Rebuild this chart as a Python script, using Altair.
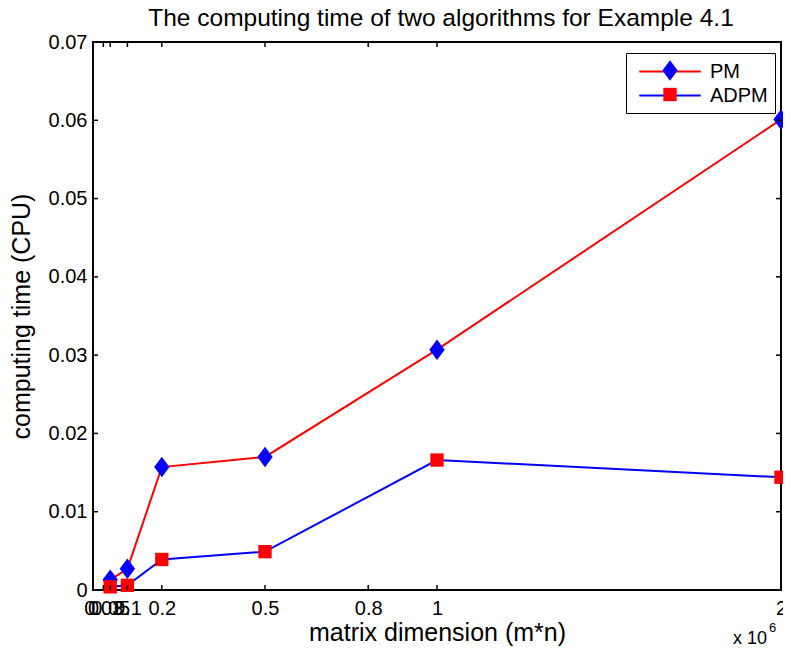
import altair as alt
import pandas as pd

# ---- data ----
x_vals = [0.05, 0.1, 0.2, 0.5, 1.0, 2.0]          # matrix dimension (x 10^6)
pm_vals = [0.0013, 0.0027, 0.0157, 0.0170, 0.0307, 0.0601]
adpm_vals = [0.0004, 0.0006, 0.0039, 0.0049, 0.0166, 0.0144]
series = ["PM", "ADPM"]
x_ticks = [0, 0.03, 0.05, 0.1, 0.2, 0.5, 0.8, 1, 2]
y_ticks = [0, 0.01, 0.02, 0.03, 0.04, 0.05, 0.06, 0.07]
title_text = "The computing time of two algorithms for Example 4.1"

rows = []
for s, vals in zip(series, [pm_vals, adpm_vals]):
    for xv, yv in zip(x_vals, vals):
        rows.append({"x": xv, "y": yv, "series": s,
                     "pm_key": s if s == "PM" else None,
                     "adpm_key": s if s == "ADPM" else None})
df = pd.DataFrame(rows)
df_pm = df[df["series"] == "PM"]
df_adpm = df[df["series"] == "ADPM"]

FONT = "Liberation Sans"
W, H = 688, 548
SYM = 420
DIAMOND = "M0,-1L0.75,0L0,1L-0.75,0Z"
SQUARE = "M-0.65,-0.65H0.65V0.65H-0.65Z"
LX, LY = 533, 11          # legend box position inside plot
ROW = 24                  # legend row step
LPAD = 7

xscale = alt.Scale(domain=[0, 2], nice=False, zero=False)
yscale = alt.Scale(domain=[0, 0.07], nice=False)

xaxis = alt.Axis(
    values=x_ticks, labelExpr="format(datum.value, '~g')",
    tickSize=0, domain=False, grid=False,
    labelOverlap=False, labelFlush=False, labelPadding=8,
    labelFontSize=20, labelFont=FONT, labelColor="black",
    title="matrix dimension (m*n)", titleFontSize=25, titleFont=FONT,
    titleFontWeight="normal", titleColor="black",
    titleX=W / 2, titleY=50, titleBaseline="alphabetic", titleAlign="center",
)
yaxis = alt.Axis(
    values=y_ticks, labelExpr="format(datum.value, '~g')",
    tickSize=0, domain=False, grid=False,
    labelOverlap=False, labelFlush=False, labelPadding=6,
    labelFontSize=20, labelFont=FONT, labelColor="black",
    title="computing time (CPU)", titleFontSize=25, titleFont=FONT,
    titleFontWeight="normal", titleColor="black",
    titleX=-72, titleY=H / 2, titleAngle=270,
    titleBaseline="middle", titleAlign="center",
)

line_legend = alt.Legend(
    title=None, orient="none", legendX=LX, legendY=LY,
    symbolType="M-3,0H3", symbolSize=SYM, symbolStrokeWidth=2,
    symbolOffset=25.5, labelOffset=28.5,
    labelFontSize=20, labelFont=FONT, labelColor="black",
    padding=LPAD, rowPadding=2, strokeColor="black",
)


def pt_legend(shape, row):
    return alt.Legend(
        title=None, orient="none", legendX=LX, legendY=LY + row * ROW,
        symbolType=shape, symbolSize=SYM, symbolStrokeWidth=0, symbolOffset=26.5,
        symbolOpacity=1,
        labelFontSize=20, labelFont=FONT, labelOpacity=0,
        padding=LPAD,
    )


lines = alt.Chart(df).mark_line(strokeWidth=2).encode(
    x=alt.X("x:Q", scale=xscale, axis=xaxis),
    y=alt.Y("y:Q", scale=yscale, axis=yaxis),
    stroke=alt.Stroke("series:N", sort="descending",
                      scale=alt.Scale(range=["#ff0000", "#0000ff"]),
                      legend=line_legend),
)

pts_pm = alt.Chart(df_pm).mark_point(
    filled=True, size=SYM, opacity=1, strokeWidth=0, shape=DIAMOND
).encode(
    x=alt.X("x:Q"), y=alt.Y("y:Q"),
    fill=alt.Fill("pm_key:N", scale=alt.Scale(range=["#0000ff"]),
                  legend=pt_legend(DIAMOND, 0)),
)
pts_adpm = alt.Chart(df_adpm).mark_point(
    filled=True, size=SYM, opacity=1, strokeWidth=0, shape=SQUARE
).encode(
    x=alt.X("x:Q"), y=alt.Y("y:Q"),
    fill=alt.Fill("adpm_key:N", scale=alt.Scale(range=["#ff0000"]),
                  legend=pt_legend(SQUARE, 1)),
)

xt = pd.DataFrame({"t": x_ticks})
yt = pd.DataFrame({"t": y_ticks})
TL = 5
tick_bottom = alt.Chart(xt).mark_rule(color="black", strokeWidth=1.5).encode(
    x=alt.X("t:Q"), y=alt.value(H), y2=alt.value(H - TL))
tick_top = alt.Chart(xt).mark_rule(color="black", strokeWidth=1.5).encode(
    x=alt.X("t:Q"), y=alt.value(0), y2=alt.value(TL))
tick_left = alt.Chart(yt).mark_rule(color="black", strokeWidth=1.5).encode(
    y=alt.Y("t:Q"), x=alt.value(0), x2=alt.value(TL))
tick_right = alt.Chart(yt).mark_rule(color="black", strokeWidth=1.5).encode(
    y=alt.Y("t:Q"), x=alt.value(W), x2=alt.value(W - TL))

title = alt.Chart(pd.DataFrame({"s": [title_text]})).mark_text(
    align="center", baseline="alphabetic", fontSize=24.5, font=FONT, color="black"
).encode(x=alt.value(348), y=alt.value(-16), text="s:N")
mult = alt.Chart(pd.DataFrame({"s": ["x 10"]})).mark_text(
    align="left", baseline="alphabetic", fontSize=18, font=FONT, color="black"
).encode(x=alt.value(640), y=alt.value(602), text="s:N")
sup = alt.Chart(pd.DataFrame({"s": ["6"]})).mark_text(
    align="left", baseline="alphabetic", fontSize=13, font=FONT, color="black"
).encode(x=alt.value(676), y=alt.value(590), text="s:N")

chart = alt.layer(
    lines, pts_pm, pts_adpm, tick_bottom, tick_top, tick_left, tick_right,
    title, mult, sup
).resolve_scale(fill="independent").resolve_legend(fill="independent").properties(
    width=W, height=H,
    padding={"left": 85, "top": 34, "right": 2, "bottom": 56},
    autosize=alt.AutoSizeParams(type="none"),
    background="white",
).configure_view(stroke="black", strokeWidth=2)

chart.save("out.html", embed_options={"renderer": "svg", "actions": False})
